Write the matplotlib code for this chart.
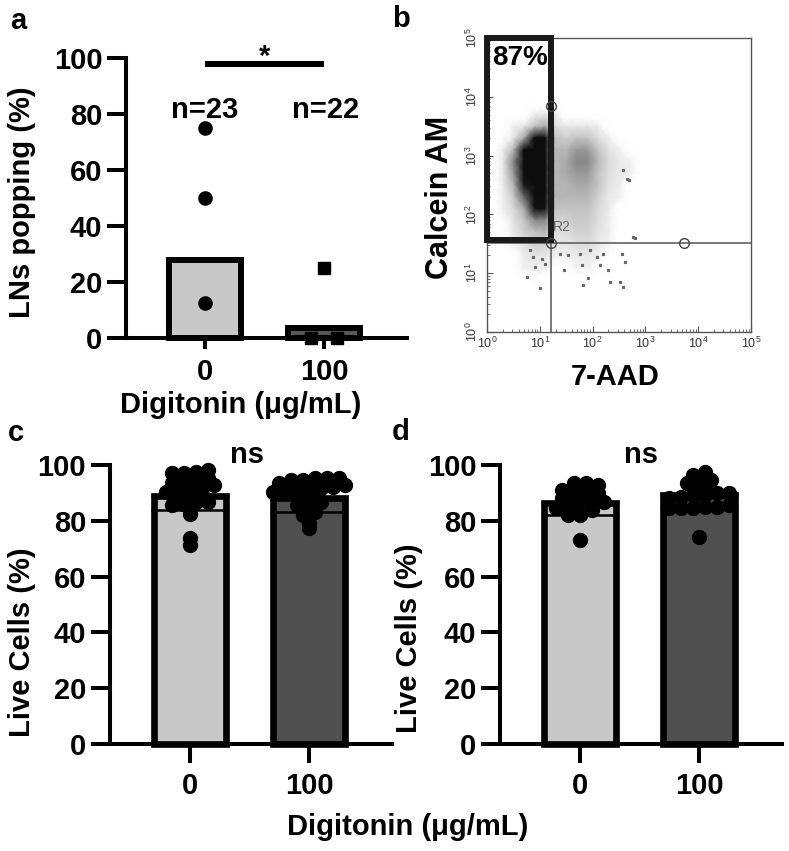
import matplotlib

matplotlib.use("Agg")
import matplotlib.pyplot as plt
import numpy as np
from matplotlib.colors import LinearSegmentedColormap

plt.rcParams["font.family"] = ["Liberation Sans", "DejaVu Sans"]
plt.rcParams["font.weight"] = "bold"
plt.rcParams["mathtext.default"] = "regular"

W, H = 789, 851

# ---- data ----
groups = ["0", "100"]
bar_colors = ["#c8c8c8", "#505050"]

# a: LNs popping (%)
a_bar = [27.7, 3.5]
a_ctrl = [75, 50, 12.5]
a_dig = [25, 0, 0]
a_n = ["n=23", "n=22"]

# b: flow plot, density read on a grid in decades (rows top -> bottom)
b_x_dec = [0.1, 0.3, 0.5, 0.7, 0.9, 1.1, 1.3, 1.5, 1.7, 1.9, 2.1, 2.3, 2.5, 2.7, 2.9]
b_y_dec = [3.9, 3.7, 3.5, 3.3, 3.1, 2.9, 2.7, 2.5, 2.3, 2.1, 1.9, 1.7, 1.5, 1.3, 1.1, 0.9, 0.7]
b_density = [
    [0, 0, 0, 0, 0, 0, 0, 0, 0, 0, 0, 0, 0, 0, 0],
    [0, 0, 0, 0, 0.3, 0.6, 0.3, 0, 0, 0, 0, 0, 0, 0, 0],
    [0, 0, 0.2, 0.6, 2, 3, 1, 0.5, 0.6, 0.6, 0.3, 0, 0, 0, 0],
    [0, 0.1, 0.6, 3, 10, 10, 2, 1.5, 2, 2, 1, 0.3, 0, 0, 0],
    [0, 0.3, 2.5, 10, 10, 10, 2.5, 2.5, 3.5, 3.5, 2, 0.8, 0.2, 0, 0],
    [0, 0.5, 4, 10, 10, 10, 2.5, 3, 4, 4, 2.5, 1.2, 0.5, 0.2, 0],
    [0, 0.5, 3.5, 10, 10, 10, 2.5, 3, 3.5, 3.5, 2, 1, 0.5, 0.3, 0],
    [0, 0.4, 2.5, 8, 10, 10, 2.5, 2.5, 3, 3, 2, 0.8, 0.3, 0, 0],
    [0, 0.3, 1.8, 5, 10, 10, 2.5, 2.5, 2.5, 2.5, 1.5, 0.6, 0.2, 0, 0],
    [0, 0.2, 1.2, 3, 9, 9, 2, 2, 2, 2, 1.2, 0.5, 0, 0, 0],
    [0, 0.1, 0.8, 2, 4, 4, 1.5, 1.5, 1.8, 1.8, 1, 0.3, 0, 0, 0],
    [0, 0, 0.5, 1.5, 2, 2.5, 1, 1, 1.5, 1.5, 0.8, 0.3, 0, 0, 0],
    [0, 0, 0.3, 0.8, 1.5, 1.5, 0.6, 0.6, 1, 1, 0.5, 0.2, 0, 0, 0],
    [0, 0, 0, 0.4, 0.8, 0.6, 0.3, 0.3, 0.5, 0.5, 0.3, 0, 0, 0, 0],
    [0, 0, 0, 0.2, 0.3, 0.2, 0, 0, 0.2, 0.2, 0.1, 0, 0, 0, 0],
    [0, 0, 0, 0, 0.1, 0, 0, 0, 0, 0, 0, 0, 0, 0, 0],
    [0, 0, 0, 0, 0, 0, 0, 0, 0, 0, 0, 0, 0, 0, 0],
]
b_out_x = [0.75, 0.91, 1.00, 1.10, 0.88, 0.81, 1.04, 1.45, 1.54, 1.38, 1.79, 1.92, 1.82,
           2.14, 2.30, 2.33, 2.52, 2.58, 2.61, 2.55, 2.08, 1.95, 2.20, 1.76, 2.65, 2.58,
           2.77, 2.68, 2.80]
b_out_y = [0.94, 1.11, 0.74, 1.16, 1.28, 1.39, 1.25, 1.06, 1.31, 1.33, 1.14, 0.91, 0.80,
           1.14, 1.05, 0.85, 0.85, 0.77, 1.19, 1.33, 1.28, 1.39, 1.33, 1.33, 2.60, 2.75,
           1.62, 2.58, 1.60]
b_gate_x = [1.0, 10 ** 1.21]
b_gate_y = [10 ** 1.56, 1e5]
b_quad_x = 10 ** 1.21
b_quad_y = 10 ** 1.52
b_handle_x = [10 ** 1.21, 10 ** 1.21, 10 ** 3.73]
b_handle_y = [10 ** 3.84, 10 ** 1.52, 10 ** 1.52]

# c and d: Live cells (%)
c_mean = [89.0, 88.0]
c_sd = [5.2, 4.8]
c_ctrl = [86.0, 94.6, 95.2, 97.0, 97.6, 98.2, 97.0, 93.4, 90.4, 88.1, 91.0, 89.2,
          92.8, 91.6, 90.4, 88.6, 86.9, 86.9, 85.7, 82.4, 73.7, 71.3, 94.6]
c_dig = [93.4, 94.6, 95.2, 95.2, 95.2, 94.6, 92.8, 90.4, 89.2, 91.0, 92.2, 91.6,
         91.0, 90.4, 89.2, 86.3, 86.9, 85.7, 83.3, 82.1, 79.1, 77.3]
d_mean = [86.5, 89.3]
d_sd = [4.5, 4.5]
d_ctrl = [93.4, 92.5, 91.0, 91.6, 93.4, 92.8, 88.6, 86.9, 83.9, 84.5, 82.1, 82.1,
          84.5, 86.9, 89.8, 88.1, 86.9, 88.1, 73.1]
d_dig = [89.8, 91.6, 93.4, 96.4, 97.6, 94.6, 93.4, 89.8, 85.1, 84.5, 84.5, 85.1,
         85.7, 84.5, 88.6, 89.2, 89.2, 88.1, 74.3, 92.2]


def fig_box(left, top, right, bottom):
    return [left / W, 1 - bottom / H, (right - left) / W, (bottom - top) / H]


def row_offsets(vals, binw, spacing):
    vals = np.asarray(vals, float)
    bins = np.floor(vals / binw)
    offs = np.zeros(len(vals))
    for b in np.unique(bins):
        idx = np.where(bins == b)[0]
        idx = idx[np.argsort(vals[idx])]
        offs[idx] = (np.arange(len(idx)) - (len(idx) - 1) / 2) * spacing
    return offs


def style_bar_axes(ax, xlim, xtick_len, xpad):
    ax.set_xlim(*xlim)
    ax.set_ylim(0, 100)
    ax.set_yticks([0, 20, 40, 60, 80, 100])
    ax.set_xticks([0, 1])
    ax.set_xticklabels(groups)
    for side in ("top", "right"):
        ax.spines[side].set_visible(False)
    for side in ("left", "bottom"):
        ax.spines[side].set_linewidth(2.9)
    ax.spines["left"].set_capstyle("projecting")
    ax.tick_params(axis="y", length=13.5, width=2.9, pad=3.6, labelsize=21)
    ax.tick_params(axis="x", length=xtick_len, width=2.9, pad=xpad, labelsize=21)
    ax.patch.set_alpha(0)


fig = plt.figure(figsize=(W / 100, H / 100), dpi=100)

# ---- panel a ----
ax = fig.add_axes(fig_box(126, 58.3, 407, 337.7))
ax.bar([0, 1], a_bar, width=0.6, color=bar_colors[0], edgecolor="black", linewidth=4.3,
       zorder=2, clip_on=False)
ax.patches[1].set_facecolor("#585858")
ax.plot(row_offsets(a_ctrl, 5, 0.22), a_ctrl, "o", ms=9.5, color="black", zorder=3, clip_on=False)
ax.plot(1 + row_offsets(a_dig, 5, 0.22), a_dig, "s", ms=9, color="black", zorder=3, clip_on=False)
ax.plot([0, 1], [98.1, 98.1], color="black", lw=4.3, solid_capstyle="butt", clip_on=False)
ax.text(0.5, 97.8, "*", ha="center", va="baseline", fontsize=21)
for i, label in enumerate(a_n):
    ax.text(i + 0.01 * i, 78.5, label, ha="center", va="baseline", fontsize=21)
style_bar_axes(ax, (-0.664, 1.697), 8, 6.5)

fig.text(10 / W, 1 - 29 / H, "a", fontsize=21, va="baseline")
fig.text(21.7 / W, 1 - 202.5 / H, "LNs popping (%)", rotation=90, ha="center", va="center", fontsize=21)
fig.text(240.8 / W, 1 - 405 / H, "Digitonin (μg/mL)", ha="center", va="center", fontsize=21)

# ---- panel b ----
axb = fig.add_axes(fig_box(487, 38, 751, 332))
axb.set_xscale("log")
axb.set_yscale("log")
axb.set_xlim(1, 1e5)
axb.set_ylim(1, 1e5)
flow_cmap = LinearSegmentedColormap.from_list(
    "flow",
    [(0, (1, 1, 1, 0)), (0.02, (0.94, 0.94, 0.94, 1)), (0.15, (0.82, 0.82, 0.82, 1)),
     (0.3, (0.66, 0.66, 0.66, 1)), (0.5, (0.4, 0.4, 0.4, 1)), (0.75, (0.1, 0.1, 0.1, 1)),
     (1, (0.05, 0.05, 0.05, 1))],
)
X, Y = np.meshgrid(10 ** np.array(b_x_dec), 10 ** np.array(b_y_dec))
axb.pcolormesh(X, Y, np.array(b_density), shading="gouraud", cmap=flow_cmap, vmin=0, vmax=10, zorder=1)
axb.plot(10 ** np.array(b_out_x), 10 ** np.array(b_out_y), "s", ms=1.3, color="#666666", zorder=2)
axb.axvline(b_quad_x, color="#555555", lw=1.1, zorder=3)
axb.axhline(b_quad_y, color="#555555", lw=1.1, zorder=3)
gx = [b_gate_x[0], b_gate_x[1], b_gate_x[1], b_gate_x[0], b_gate_x[0]]
gy = [b_gate_y[0], b_gate_y[0], b_gate_y[1], b_gate_y[1], b_gate_y[0]]
axb.plot(gx, gy, color="#1a1a1a", lw=4.3, solid_joinstyle="miter", zorder=4, clip_on=False)
axb.plot(b_handle_x, b_handle_y, "o", ms=7, mfc="none", mec="#444444", mew=1, zorder=5, clip_on=False)
axb.text(10 ** 0.09, 10 ** 4.54, "87%", fontsize=20, ha="left", va="baseline", zorder=6)
axb.text(10 ** 1.25, 10 ** 1.78, "R2", fontsize=10, color="#666666", fontweight="normal", va="center", zorder=3)
for s in axb.spines.values():
    s.set_color("#555555")
    s.set_linewidth(1)
axb.tick_params(which="both", direction="in", colors="#555555", labelcolor="#333333", labelsize=9)
axb.tick_params(which="major", length=4)
axb.tick_params(which="minor", length=2)
axb.tick_params(axis="x", pad=3)
axb.tick_params(axis="y", labelrotation=90, pad=5)
for t in axb.get_yticklabels():
    t.set_va("center")
for t in axb.get_xticklabels() + axb.get_yticklabels():
    t.set_fontweight("normal")

fig.text(392 / W, 1 - 26.7 / H, "b", fontsize=21, va="baseline")
fig.text(440 / W, 1 - 197.5 / H, "Calcein AM", rotation=90, ha="center", va="center", fontsize=22)
fig.text(615 / W, 1 - 376.7 / H, "7-AAD", ha="center", va="center", fontsize=21)


# ---- panels c and d ----
def live_panel(box, means, sds, ctrl, dig, ns_x):
    ax = fig.add_axes(box)
    ax.bar([0, 1], means, width=0.6, color=bar_colors, edgecolor="black", linewidth=4.8,
           zorder=2, clip_on=False)
    ax.errorbar([0, 1], means, yerr=[sds, [0, 0]], fmt="none", ecolor="black", elinewidth=1.5,
                capsize=28, capthick=1.8, zorder=2.5, clip_on=False)
    ax.plot(row_offsets(ctrl, 3, 0.1), ctrl, "o", ms=10, color="black", zorder=3, clip_on=False)
    ax.plot(1 + row_offsets(dig, 3, 0.1), dig, "o", ms=10, color="black", zorder=3, clip_on=False)
    ax.text(ns_x, 100.6, "ns", ha="center", va="baseline", fontsize=21)
    style_bar_axes(ax, (-0.672, 1.697), 13.5, 6.3)
    return ax


live_panel(fig_box(110, 465, 392, 744), c_mean, c_sd, c_ctrl, c_dig, 0.476)
live_panel(fig_box(500, 465, 782, 744), d_mean, d_sd, d_ctrl, d_dig, 0.51)

fig.text(8 / W, 1 - 441 / H, "c", fontsize=21, va="baseline")
fig.text(392 / W, 1 - 440 / H, "d", fontsize=21, va="baseline")
fig.text(21.7 / W, 1 - 641.7 / H, "Live Cells (%)", rotation=90, ha="center", va="center", fontsize=21)
fig.text(409 / W, 1 - 638 / H, "Live Cells (%)", rotation=90, ha="center", va="center", fontsize=21)
fig.text(408 / W, 1 - 826.7 / H, "Digitonin (μg/mL)", ha="center", va="center", fontsize=21)

fig.savefig("out.png", dpi=100)
plt.close(fig)
